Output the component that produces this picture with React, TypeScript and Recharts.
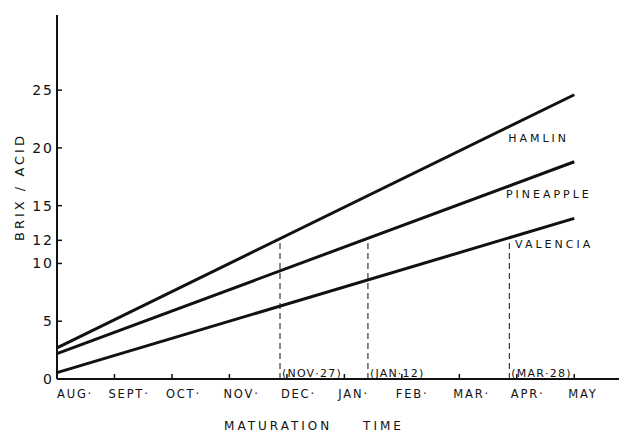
import { LineChart, Line, XAxis, YAxis, ReferenceLine, ReferenceDot } from "recharts"

// months along the time axis (index 0 = Aug)
const months = ["AUG·", "SEPT·", "OCT·", "NOV·", "DEC·", "JAN·", "FEB·", "MAR·", "APR·", "MAY"]
const monthTicks = [0, 1, 2, 3, 4, 5, 6, 7, 8, 9]
const ratioTicks = [0, 5, 10, 12, 15, 20, 25]

// straight-line brix/acid trends, Aug -> May
const timePoints = [0, 9]
const hamlin = [2.7, 24.6]
const pineapple = [2.2, 18.8]
const valencia = [0.55, 13.9]

// dates where each variety reaches a ratio of 12
const markerDates = ["(NOV·27)", "(JAN·12)", "(MAR·28)"]
const markerTimes = [3.88, 5.41, 7.87]
const markerRatio = 12

const seriesNames = ["HAMLIN", "PINEAPPLE", "VALENCIA"]

const data = timePoints.map((t, i) => ({
  t,
  hamlin: hamlin[i],
  pineapple: pineapple[i],
  valencia: valencia[i],
}))

const INK = "#111"
const FONT = "'DejaVu Sans', sans-serif"

// where the variety names sit (data units)
const nameAnchors = [
  { x: 7.85, y: 20.85 },
  { x: 7.81, y: 16.0 },
  { x: 7.97, y: 11.6 },
]

function MonthTick({ x, y, payload }: any) {
  const tx = payload.value === 0 ? x : x - 6
  return (
    <g>
      <line x1={x} y1={y} x2={x} y2={y - 5} stroke={INK} strokeWidth={1.5} />
      <text x={tx} y={y + 19} textAnchor="start" fontFamily={FONT} fontSize={11.5} letterSpacing={1.8} fill={INK}>
        {months[payload.value]}
      </text>
    </g>
  )
}

function RatioTick({ x, y, payload }: any) {
  return (
    <g>
      <line x1={x} y1={y} x2={x + 5} y2={y} stroke={INK} strokeWidth={1.5} />
      <text x={x - 3} y={y} textAnchor="end" dominantBaseline="central" fontFamily={FONT} fontSize={14} letterSpacing={2} fill={INK}>
        {payload.value}
      </text>
    </g>
  )
}

function DateLabel(text: string) {
  return (props: any) => {
    const vb = props.viewBox
    return (
      <text x={vb.x + 2} y={vb.y + vb.height - 2} fontFamily={FONT} fontSize={11} letterSpacing={1.2} fill={INK}>
        {text}
      </text>
    )
  }
}

function NameLabel(text: string) {
  return (props: any) => {
    const vb = props.viewBox
    return (
      <text x={vb.x} y={vb.y} dominantBaseline="central" fontFamily={FONT} fontSize={11} letterSpacing={3} fill={INK}>
        {text}
      </text>
    )
  }
}

export default function App() {
  return (
    <LineChart width={619} height={427} data={data} margin={{ top: 7, right: 1, left: 0, bottom: 0 }}>
      <XAxis
        dataKey="t"
        type="number"
        domain={[0, 9.9]}
        ticks={monthTicks}
        height={56}
        tickSize={0}
        tickMargin={0}
        tick={<MonthTick />}
        axisLine={{ stroke: INK, strokeWidth: 2 }}
        tickLine={false}
        label={(props: any) => (
          <text
            x={306}
            y={422}
            textAnchor="middle"
            fontFamily={FONT}
            fontSize={12}
            letterSpacing={3}
            wordSpacing={24}
            fill={INK}
          >
            MATURATION TIME
          </text>
        )}
      />
      <YAxis
        type="number"
        domain={[0, 31.5]}
        ticks={ratioTicks}
        width={49}
        tickSize={0}
        tickMargin={0}
        tick={<RatioTick />}
        axisLine={{ stroke: INK, strokeWidth: 2 }}
        tickLine={false}
        label={(props: any) => (
          <text
            x={11}
            y={179}
            transform="rotate(-90 11 179)"
            textAnchor="middle"
            dominantBaseline="central"
            fontFamily={FONT}
            fontSize={13}
            letterSpacing={3}
            fill={INK}
          >
            BRIX / ACID
          </text>
        )}
      />
      {markerTimes.map((m, i) => (
        <ReferenceLine
          key={markerDates[i]}
          segment={[{ x: m, y: 0 }, { x: m, y: markerRatio }]}
          stroke={INK}
          strokeWidth={1}
          strokeDasharray="6 4"
          label={DateLabel(markerDates[i])}
        />
      ))}
      <Line dataKey="hamlin" stroke={INK} strokeWidth={3} dot={false} isAnimationActive={false} />
      <Line dataKey="pineapple" stroke={INK} strokeWidth={3} dot={false} isAnimationActive={false} />
      <Line dataKey="valencia" stroke={INK} strokeWidth={3} dot={false} isAnimationActive={false} />
      {seriesNames.map((n, i) => (
        <ReferenceDot
          key={n}
          x={nameAnchors[i].x}
          y={nameAnchors[i].y}
          r={0}
          fill="none"
          stroke="none"
          label={NameLabel(n)}
        />
      ))}
    </LineChart>
  )
}
